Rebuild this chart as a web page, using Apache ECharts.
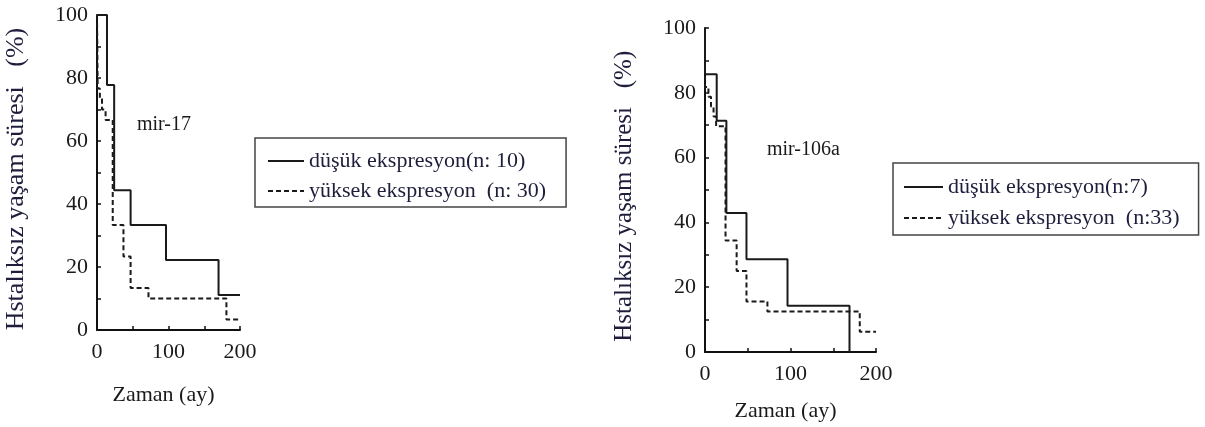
<!DOCTYPE html>
<html>
<head>
<meta charset="utf-8">
<script src="https://cdn.jsdelivr.net/npm/echarts@6/dist/echarts.min.js"></script>
<style>
  html, body { margin: 0; padding: 0; background: #fff; }
  #chart { width: 1205px; height: 427px; }
</style>
</head>
<body>
<div id="chart"></div>
<script>
// mir-17: [zaman, yüzde] step change points
var mir17Low = [[0, 100], [14, 77.8], [24, 44.4], [47, 33.3], [96.5, 22.2], [170, 11.1], [200, 11.1]];
var mir17High = [[0, 100], [1, 76.7], [4, 73.3], [7, 70], [12, 66.7], [22, 33.3], [37, 23.3], [47, 13.3], [72, 10], [181, 3.3], [200, 3.3]];
// mir-106a
var mir106Low = [[0, 100], [0, 85.7], [13.7, 71.4], [25, 42.9], [48.5, 28.6], [96.5, 14.3], [169, 0]];
var mir106High = [[0, 100], [0, 81.8], [4, 78.8], [7, 75.8], [10, 72.7], [13, 69.7], [24, 34.4], [37, 25], [48.5, 15.6], [73, 12.5], [181, 6.25], [200, 6.25]];

var legendLeft = ['düşük ekspresyon(n: 10)', 'yüksek ekspresyon  (n: 30)'];
var legendRight = ['düşük ekspresyon(n:7)', 'yüksek ekspresyon  (n:33)'];
var xTicks = [0, 100, 200];
var yTicks = [0, 20, 40, 60, 80, 100];

var serif = 'Liberation Serif';

function xAxisOf(gridIndex, gap) {
  return {
    gridIndex: gridIndex,
    type: 'value',
    min: 0, max: 200, interval: 50,
    name: 'Zaman (ay)',
    nameLocation: 'middle',
    nameGap: gap,
    nameTextStyle: { fontFamily: serif, fontSize: 22, color: '#1a1a1a', padding: [0, 10, 0, 0] },
    axisLine: { lineStyle: { color: '#111', width: 2 } },
    axisTick: { inside: true, length: 4, lineStyle: { color: '#111', width: 1.5 } },
    axisLabel: {
      margin: 11, fontFamily: serif, fontSize: 22, color: '#1a1a1a',
      formatter: function (v) { return xTicks.indexOf(v) >= 0 ? v : ''; }
    },
    splitLine: { show: false }
  };
}

function yAxisOf(gridIndex, gap, fs) {
  return {
    gridIndex: gridIndex,
    type: 'value',
    min: 0, max: 100, interval: 10,
    name: 'Hstalıksız yaşam süresi   (%)  ',
    nameLocation: 'middle',
    nameGap: gap,
    nameRotate: 90,
    nameTextStyle: { fontFamily: serif, fontSize: fs, color: '#1e1e3c' },
    axisLine: { show: true, lineStyle: { color: '#111', width: 2 } },
    axisTick: { show: true, inside: true, length: 4, lineStyle: { color: '#111', width: 1.5 } },
    axisLabel: {
      margin: 9, fontFamily: serif, fontSize: 22, color: '#1a1a1a',
      formatter: function (v) { return yTicks.indexOf(v) >= 0 ? v : ''; }
    },
    splitLine: { show: false }
  };
}

function stepLine(name, data, idx, dashed) {
  return {
    name: name,
    type: 'line',
    step: 'end',
    xAxisIndex: idx,
    yAxisIndex: idx,
    data: data,
    symbol: 'none',
    silent: true,
    itemStyle: { color: '#1a1a1a' },
    lineStyle: { color: '#1a1a1a', width: 2, type: dashed ? [5, 3] : 'solid' },
    z: dashed ? 2 : 3
  };
}

function legendOf(data, left, top, padding, gap, iconW) {
  return {
    data: data, orient: 'vertical', left: left, top: top,
    padding: padding, itemGap: gap, itemWidth: iconW, itemHeight: 14,
    borderColor: '#444', borderWidth: 1.5,
    selectedMode: false,
    itemStyle: { opacity: 0 },
    textStyle: { fontFamily: serif, fontSize: 22, lineHeight: 22, color: '#1e1e3c' }
  };
}

var chart = echarts.init(document.getElementById('chart'));
chart.setOption({
  backgroundColor: '#fff',
  animation: false,
  title: [
    { text: 'mir-17', left: 137, top: 115, padding: 0,
      textStyle: { fontFamily: serif, fontSize: 20, fontWeight: 'normal', color: '#1a1a1a' } },
    { text: 'mir-106a', left: 767, top: 140, padding: 0,
      textStyle: { fontFamily: serif, fontSize: 20, fontWeight: 'normal', color: '#1a1a1a' } }
  ],
  legend: [
    legendOf(legendLeft, 255, 138, [12, 20, 5, 12], 8, 36),
    legendOf(legendRight, 893, 163, [13, 19, 6, 10], 9, 39)
  ],
  grid: [
    { left: 97, top: 15, width: 143, height: 315 },
    { left: 705, top: 28, width: 171, height: 324 }
  ],
  xAxis: [xAxisOf(0, 54), xAxisOf(1, 48)],
  yAxis: [yAxisOf(0, 68, 26), yAxisOf(1, 68, 25)],
  series: [
    stepLine(legendLeft[0], mir17Low, 0, false),
    stepLine(legendLeft[1], mir17High, 0, true),
    stepLine(legendRight[0], mir106Low, 1, false),
    stepLine(legendRight[1], mir106High, 1, true)
  ]
});
</script>
</body>
</html>
